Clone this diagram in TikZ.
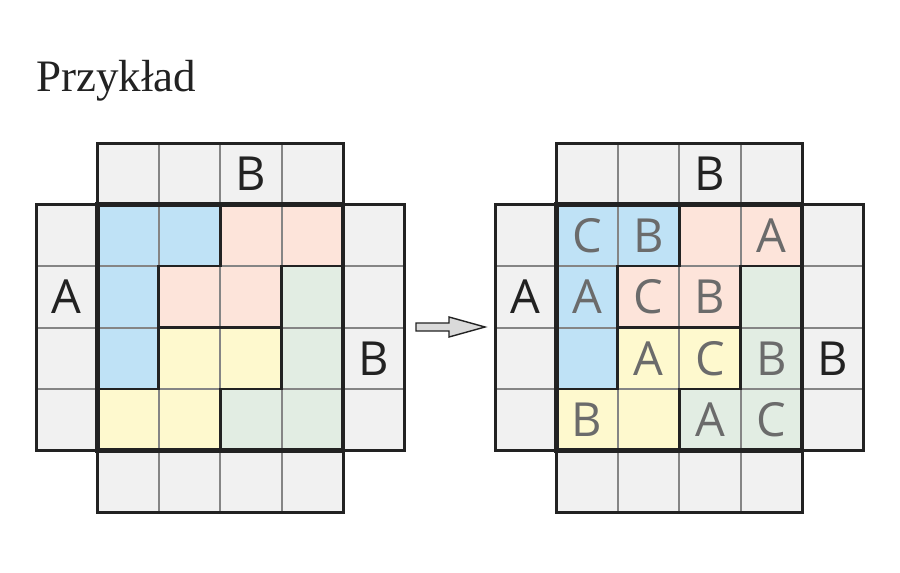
\documentclass[tikz,border=0pt]{standalone}
\usepackage{fontspec}
\setmainfont{Open Sans}
\newfontfamily\titlefont{Liberation Serif}
\definecolor{cellgray}{HTML}{F1F1F1}
\definecolor{rblue}{HTML}{BFE2F6}
\definecolor{rpink}{HTML}{FDE4DA}
\definecolor{rgreen}{HTML}{E2EDE3}
\definecolor{ryellow}{HTML}{FEF9CE}
\definecolor{gridgray}{HTML}{858585}
\definecolor{darkline}{HTML}{222222}
\definecolor{innerletter}{HTML}{6B6B6B}
\definecolor{arrowfill}{HTML}{DADADA}
\tikzset{
  outerlet/.style={font=\fontsize{23.5}{23.5}\selectfont, text=darkline, inner sep=0pt},
  innerlet/.style={font=\fontsize{23.5}{23.5}\selectfont, text=innerletter, inner sep=0pt},
  gridln/.style={draw=gridgray, line width=1pt},
  regionln/.style={draw=darkline, line width=1.4pt, line cap=rect},
  plusln/.style={draw=darkline, line width=1.5pt, line join=miter},
  innerbox/.style={draw=darkline, line width=2.4pt},
}
\newcommand{\puzzlebody}[2]{%
  \begin{scope}[shift={(#1,143)}, x=30.7pt, y=-30.75pt]
    \fill[cellgray] (1,0) -- (5,0) -- (5,1) -- (6,1) -- (6,5) -- (5,5) -- (5,6) -- (1,6) -- (1,5) -- (0,5) -- (0,1) -- (1,1) -- cycle;
    \fill[rblue] (1,1) rectangle (3,2);
    \fill[rblue] (1,2) rectangle (2,4);
    \fill[rpink] (3,1) rectangle (5,2);
    \fill[rpink] (2,2) rectangle (4,3);
    \fill[rgreen] (4,2) rectangle (5,4);
    \fill[rgreen] (3,4) rectangle (5,5);
    \fill[ryellow] (2,3) rectangle (4,4);
    \fill[ryellow] (1,4) rectangle (3,5);
    \foreach \i in {1,...,5} {
      \draw[gridln] (\i,0) -- (\i,6);
      \draw[gridln] (0,\i) -- (6,\i);
    }
    \draw[regionln] (3,1) -- (3,2);
    \draw[regionln] (2,2) -- (3,2);
    \draw[regionln] (2,2) -- (2,4);
    \draw[regionln] (1,4) -- (2,4);
    \draw[regionln] (4,2) -- (5,2);
    \draw[regionln] (4,2) -- (4,3);
    \draw[regionln] (2,3) -- (4,3);
    \draw[regionln] (4,3) -- (4,4);
    \draw[regionln] (3,4) -- (4,4);
    \draw[regionln] (3,4) -- (3,5);
    \draw[plusln] (1,0) -- (5,0) -- (5,1) -- (6,1) -- (6,5) -- (5,5) -- (5,6) -- (1,6) -- (1,5) -- (0,5) -- (0,1) -- (1,1) -- cycle;
    \draw[innerbox] (1,1) rectangle (5,5);
    \node[outerlet] (#2topB) at (3.5,0.5) {B};
    \node[outerlet] (#2leftA) at (0.5,2.5) {A};
    \node[outerlet] (#2rightB) at (5.5,3.5) {B};
  \end{scope}}
\begin{document}
\begin{tikzpicture}[x=0.5pt, y=-0.5pt]
  \useasboundingbox (0,0) rectangle (900,573);
  \fill[white] (0,0) rectangle (900,573);
  \node[anchor=base west, inner sep=0pt, font=\titlefont\fontsize{22.5}{22.5}\selectfont, text=darkline] (title) at (36,91) {Przykład};
  \puzzlebody{36}{L}
  \puzzlebody{495}{R}
  \begin{scope}[shift={(495,143)}, x=30.7pt, y=-30.75pt]
    \node[innerlet] (c11) at (1.5,1.5) {C};
    \node[innerlet] (c12) at (2.5,1.5) {B};
    \node[innerlet] (c14) at (4.5,1.5) {A};
    \node[innerlet] (c21) at (1.5,2.5) {A};
    \node[innerlet] (c22) at (2.5,2.5) {C};
    \node[innerlet] (c23) at (3.5,2.5) {B};
    \node[innerlet] (c32) at (2.5,3.5) {A};
    \node[innerlet] (c33) at (3.5,3.5) {C};
    \node[innerlet] (c34) at (4.5,3.5) {B};
    \node[innerlet] (c41) at (1.5,4.5) {B};
    \node[innerlet] (c43) at (3.5,4.5) {A};
    \node[innerlet] (c44) at (4.5,4.5) {C};
  \end{scope}
  \draw[draw=darkline, fill=arrowfill, line width=0.7pt, line join=miter]
    (416,323) -- (449,323) -- (449,317) -- (485,327) -- (449,337) -- (449,331) -- (416,331) -- cycle;
\end{tikzpicture}
\end{document}
